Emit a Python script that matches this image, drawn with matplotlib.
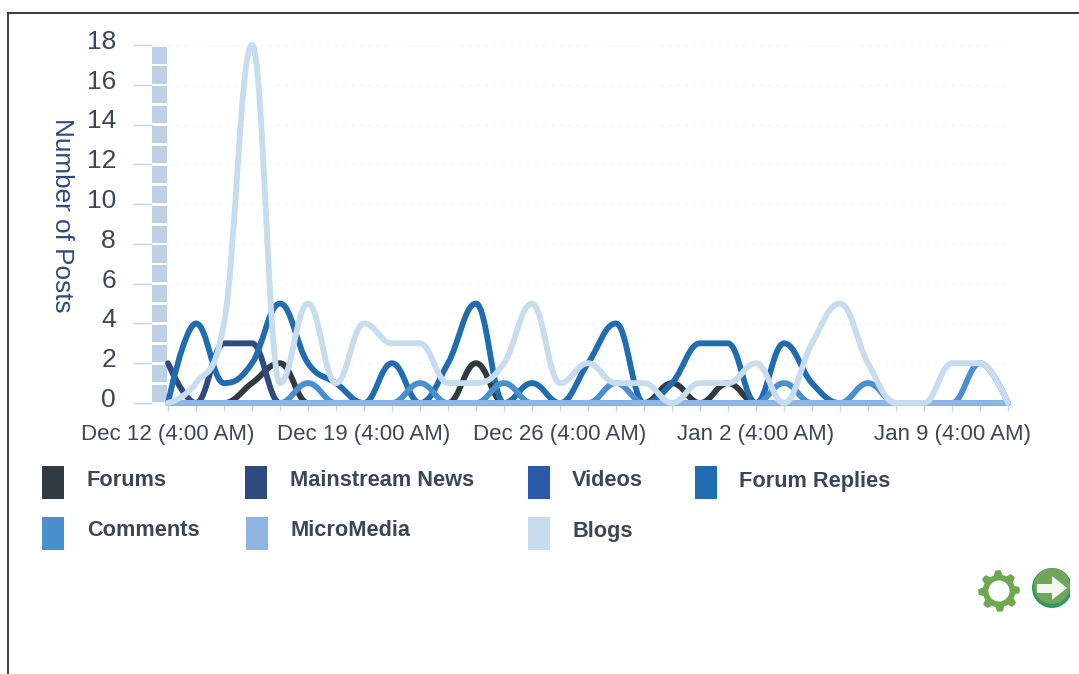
import matplotlib
matplotlib.use("Agg")
import matplotlib.pyplot as plt
from matplotlib.path import Path
from matplotlib.patches import PathPatch, Rectangle, Circle, Polygon
from matplotlib.lines import Line2D
from matplotlib.transforms import ScaledTranslation
import numpy as np

plt.rcParams['font.family'] = ['Liberation Sans', 'DejaVu Sans']

W, H = 1079, 674
days = list(range(31))
tick_days = [0, 7, 14, 21, 28]
tick_labels = ["Dec 12 (4:00 AM)", "Dec 19 (4:00 AM)", "Dec 26 (4:00 AM)", "Jan 2 (4:00 AM)", "Jan 9 (4:00 AM)"]
y_ticks = [0, 2, 4, 6, 8, 10, 12, 14, 16, 18]

forums       = [0,0,0,1,2,0,0,0,0,0,0,2,0,0,0,0,0,0,1,0,1,0,0,0,0,0,0,0,0,0,0]
mainstream   = [2,0,3,3,0,0,0,0,0,0,0,0,0,0,0,0,0,0,0,0,0,0,0,0,0,0,0,0,0,0,0]
videos       = [0]*31
forum_replies= [0,4,1,2,5,2,1,0,2,0,2,5,0,1,0,2,4,0,1,3,3,0,3,1,0,0,0,0,0,0,0]
comments     = [0,0,0,0,0,1,0,0,0,1,0,0,1,0,0,0,1,0,0,0,0,0,1,0,0,1,0,0,0,2,0]
micromedia   = [0]*31
blogs        = [0,1,4,18,1,5,1,4,3,3,1,1,2,5,1,2,1,1,0,1,1,2,0,3,5,2,0,0,2,2,0]

names = ["Forums", "Mainstream News", "Videos", "Forum Replies", "Comments", "MicroMedia", "Blogs"]
values = [forums, mainstream, videos, forum_replies, comments, micromedia, blogs]
colors = ["#2f3b40", "#2f4a80", "#2a5aa8", "#1f6cb0", "#4a90d0", "#8fb6e0", "#c8dcf0"]
text_col = "#3b4758"

def spline(xs, ys):
    """Highcharts-style spline through the points, as a Bezier path."""
    n = len(xs)
    left = [None] * n
    right = [None] * n
    for i in range(n):
        x, y = xs[i], ys[i]
        if i == 0 or i == n - 1:
            left[i] = (x, y); right[i] = (x, y)
            continue
        lx, ly, nx, ny = xs[i-1], ys[i-1], xs[i+1], ys[i+1]
        lcx, lcy = (1.5*x + lx)/2.5, (1.5*y + ly)/2.5
        rcx, rcy = (1.5*x + nx)/2.5, (1.5*y + ny)/2.5
        c = (rcy - lcy)*(rcx - x)/(rcx - lcx) + y - rcy
        lcy += c; rcy += c
        if lcy > ly and lcy > y:
            lcy = max(ly, y); rcy = 2*y - lcy
        elif lcy < ly and lcy < y:
            lcy = min(ly, y); rcy = 2*y - lcy
        if rcy > ny and rcy > y:
            rcy = max(ny, y); lcy = 2*y - rcy
        elif rcy < ny and rcy < y:
            rcy = min(ny, y); lcy = 2*y - rcy
        left[i] = (lcx, lcy); right[i] = (rcx, rcy)
    verts = [(xs[0], ys[0])]
    codes = [Path.MOVETO]
    for i in range(1, n):
        verts += [right[i-1], left[i], (xs[i], ys[i])]
        codes += [Path.CURVE4]*3
    return Path(verts, codes)

fig = plt.figure(figsize=(W/100, H/100), dpi=100, facecolor="white")
L, R, T, B = 168, 1008, 45, 403
ax = fig.add_axes([L/W, 1 - B/H, (R-L)/W, (B-T)/H])
ax.set_xlim(0, 30)
ax.set_ylim(0, 18)
ax.patch.set_alpha(0)
for s in ["top", "right", "bottom"]:
    ax.spines[s].set_visible(False)
ax.spines["left"].set_visible(False)
ax.spines["left"].set_position(("outward", 11.5))

ax.set_yticks(y_ticks)
ax.tick_params(axis="y", length=14, width=1, color="#c3d5e9", labelsize=19, labelcolor=text_col, pad=12)
for lab in ax.get_yticklabels():
    lab.set_transform(lab.get_transform() + ScaledTranslation(0, 4/72, fig.dpi_scale_trans))
ax.set_xticks(days, minor=True)
ax.set_xticks(tick_days)
ax.set_xticklabels(tick_labels)
ax.tick_params(axis="x", which="both", length=6, width=1, color="#c5d6ea", labelsize=16, labelcolor=text_col, pad=9)
ax.set_ylabel("Number of Posts", rotation=270, fontsize=18.8, color="#2f4a80", labelpad=0)
ax.yaxis.set_label_coords((62 - L)/(R - L), (403 - 215)/(B - T))
ax.yaxis.label.set_va("center")
ax.yaxis.label.set_ha("center")

for y in y_ticks[1:]:
    ax.axhline(y, color="#f3f6fa", lw=1, ls=(0, (2, 4)), zorder=0)

# segmented band beside the axis, one block per unit
for i in range(18):
    ax.add_patch(Rectangle((-16/28, i + 0.06), 15/28, 0.86, facecolor="#bdd0e6", edgecolor="none", clip_on=False, zorder=1))

for k, (vals, c) in enumerate(zip(values, colors)):
    p = spline(days, vals)
    ax.add_patch(PathPatch(p, facecolor="none", edgecolor=c, lw=4.2, clip_on=False, zorder=3 + k, capstyle="round", joinstyle="round"))

# page frame
fig.add_artist(Line2D([8/W, 1], [1 - 13/H, 1 - 13/H], color="#3a3a3a", lw=1.4, transform=fig.transFigure))
fig.add_artist(Line2D([8/W, 8/W], [0, 1 - 13/H], color="#3a3a3a", lw=1.4, transform=fig.transFigure))

# overlay in pixel coordinates for legend and icons
ov = fig.add_axes([0, 0, 1, 1])
ov.set_xlim(0, W)
ov.set_ylim(H, 0)
ov.axis("off")
ov.patch.set_alpha(0)

leg_pos = [(42, 466, 87, 480), (245, 466, 290, 480), (528, 466, 572, 481), (695, 466, 739, 481),
           (42, 517, 87, 531), (246, 517, 290, 531), (528, 517, 572, 532)]
for (sx, sy, tx, ty), name, c in zip(leg_pos, names, colors):
    ov.add_patch(Rectangle((sx, sy), 22, 33, facecolor=c, edgecolor="none"))
    ov.text(tx, ty, name, fontsize=15.7, fontweight="bold", color=text_col, va="center", ha="left")

# gear icon
cx, cy = 999, 591
angles = np.linspace(0, 2*np.pi, 160, endpoint=False)
rad = 18.5 + 2.2*np.clip(2*np.cos(8*angles + 0.4), -1, 1)
ov.add_patch(Polygon(np.c_[cx + rad*np.cos(angles), cy + rad*np.sin(angles)], closed=True, facecolor="#6da84e", edgecolor="none"))
ov.add_patch(Circle((cx, cy), 10.5, facecolor="white", edgecolor="none"))

# arrow icon
ov.add_patch(Circle((1052, 588), 20, facecolor="#2f9a5a", edgecolor="none"))
ov.add_patch(Circle((1052, 586), 18, facecolor="#6fa55c", edgecolor="none"))
ov.add_patch(Polygon([(1037, 584), (1052, 584), (1052, 576), (1067, 588), (1052, 600), (1052, 593), (1037, 593)],
                     closed=True, facecolor="#f2f6ee", edgecolor="none"))
ov.add_patch(Rectangle((1070, 560), 9, 60, facecolor="white", edgecolor="none"))

fig.savefig("out.png", dpi=100, facecolor="white")
